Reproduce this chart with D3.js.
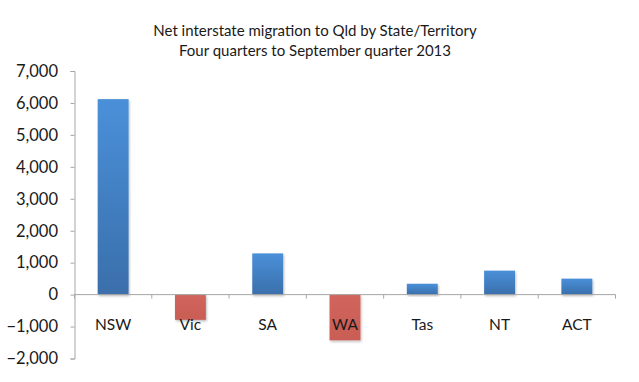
<!DOCTYPE html>
<html>
<head>
<meta charset="utf-8">
<script src="https://cdn.jsdelivr.net/npm/d3@7"></script>
<style>
  html, body { margin: 0; padding: 0; background: #fff; }
  svg { display: block; }
  text { font-family: Lato, "Open Sans", sans-serif; fill: #1a1a1a; }
</style>
</head>
<body>
<svg id="chart" width="639" height="382"></svg>
<script>
const categories = ["NSW", "Vic", "SA", "WA", "Tas", "NT", "ACT"];
const values = [6120, -790, 1290, -1430, 340, 750, 500];
const yTicks = [-2000, -1000, 0, 1000, 2000, 3000, 4000, 5000, 6000, 7000];
const titleLines = ["Net interstate migration to Qld by State/Territory", "Four quarters to September quarter 2013"];

const svg = d3.select("#chart");
const W = 639, H = 382;
const m = { left: 74.5, right: 23.5, top: 71, bottom: 23.5 };

const x = d3.scaleBand().domain(categories).range([m.left, W - m.right]).paddingInner(0.6).paddingOuter(0.3);
const y = d3.scaleLinear().domain([-2000, 7000]).range([H - m.bottom, m.top]);

const defs = svg.append("defs");
const gBlue = defs.append("linearGradient").attr("id", "gblue").attr("x1", 0).attr("y1", 0).attr("x2", 0).attr("y2", 1);
gBlue.append("stop").attr("offset", "0%").attr("stop-color", "#4a90d9");
gBlue.append("stop").attr("offset", "100%").attr("stop-color", "#3a6fab");
const gRed = defs.append("linearGradient").attr("id", "gred").attr("x1", 0).attr("y1", 0).attr("x2", 0).attr("y2", 1);
gRed.append("stop").attr("offset", "0%").attr("stop-color", "#d1655c");
gRed.append("stop").attr("offset", "100%").attr("stop-color", "#c95d55");
const f = defs.append("filter").attr("id", "shadow").attr("x", "-20%").attr("y", "-20%").attr("width", "140%").attr("height", "140%");
f.append("feDropShadow").attr("dx", 1).attr("dy", 1.5).attr("stdDeviation", 1.2).attr("flood-color", "#000").attr("flood-opacity", 0.25);

// title
svg.append("g").selectAll("text").data(titleLines).join("text")
  .attr("x", 315).attr("y", (d, i) => 36 + i * 20)
  .attr("text-anchor", "middle").style("font-size", "15px").text(d => d);

// bars
svg.append("g").selectAll("rect").data(categories).join("rect")
  .attr("x", d => x(d))
  .attr("width", x.bandwidth())
  .attr("y", (d, i) => y(Math.max(0, values[i])))
  .attr("height", (d, i) => Math.abs(y(values[i]) - y(0)))
  .attr("fill", (d, i) => values[i] >= 0 ? "url(#gblue)" : "url(#gred)")
  .attr("filter", "url(#shadow)");

// y axis
const yAxis = d3.axisLeft(y).tickValues(yTicks).tickSize(4).tickPadding(12.5).tickFormat(d3.format(","));
const ga = svg.append("g").attr("transform", `translate(${m.left},0)`).call(yAxis);
ga.select(".domain").attr("stroke", "#a6a6a6");
ga.selectAll(".tick line").attr("stroke", "#a6a6a6");
ga.selectAll(".tick text").style("font-size", "16.5px").attr("fill", "#1a1a1a");

// x axis at zero
const xAxis = d3.axisBottom(x).tickSize(0).tickPadding(24);
const gx = svg.append("g").attr("transform", `translate(0,${y(0)})`).call(xAxis);
gx.select(".domain").attr("stroke", "#a6a6a6").attr("d", `M${m.left},0H${W - m.right}`);
gx.selectAll(".tick text").style("font-size", "15.5px").attr("fill", "#1a1a1a");
// boundary ticks
const bounds = d3.range(categories.length + 1).map(i => m.left + i * (W - m.right - m.left) / categories.length);
gx.append("g").selectAll("line").data(bounds).join("line")
  .attr("x1", d => d).attr("x2", d => d).attr("y1", 0).attr("y2", 4)
  .attr("stroke", "#a6a6a6");
</script>
</body>
</html>
